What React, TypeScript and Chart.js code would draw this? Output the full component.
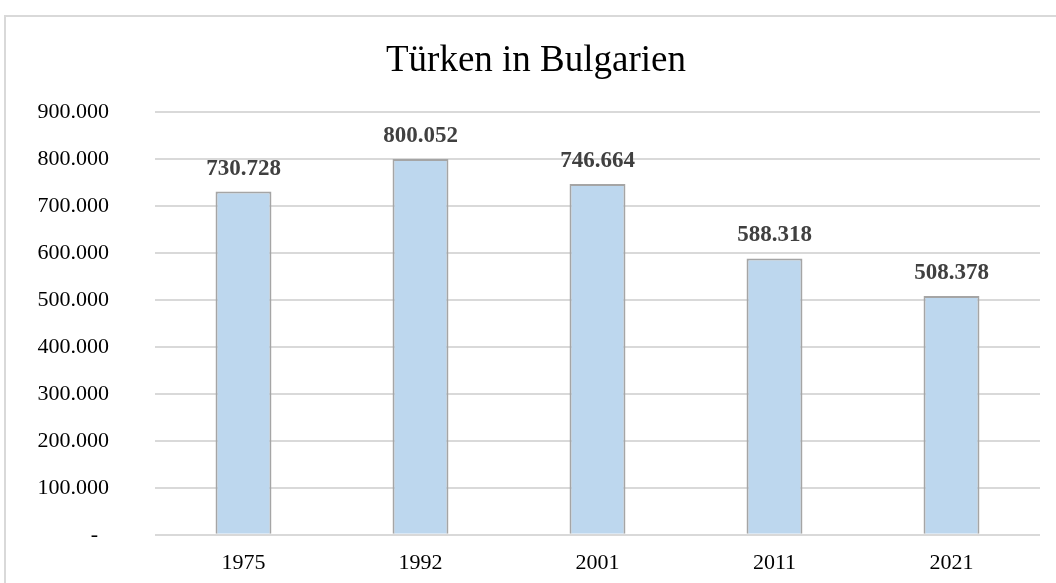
import React, { useEffect, useRef } from "react";
import { Chart, registerables } from "chart.js";

Chart.register(...registerables);

const TITLE = "Türken in Bulgarien";
const YEARS = ["1975", "1992", "2001", "2011", "2021"];
const TURKS = [730728, 800052, 746664, 588318, 508378];
const Y_MAX = 900000;
const Y_STEP = 100000;

const fmt = (v: number) => v.toLocaleString("de-DE", { maximumFractionDigits: 0 });

const labelPlugin = {
  id: "barValueLabels",
  afterDatasetsDraw(chart: any) {
    const ctx = chart.ctx;
    const meta = chart.getDatasetMeta(0);
    const data = chart.data.datasets[0].data as number[];
    ctx.save();
    ctx.font = "bold 23px 'Liberation Serif'";
    ctx.fillStyle = "#404040";
    ctx.textAlign = "center";
    ctx.textBaseline = "alphabetic";
    meta.data.forEach((bar: any, i: number) => {
      ctx.fillText(fmt(data[i]), bar.x, bar.y - 17);
    });
    ctx.restore();
  },
};

const titlePlugin = {
  id: "centeredTitle",
  afterDraw(chart: any) {
    const ctx = chart.ctx;
    ctx.save();
    ctx.font = "37px 'Liberation Serif'";
    ctx.fillStyle = "#000000";
    ctx.textAlign = "center";
    ctx.textBaseline = "alphabetic";
    ctx.fillText(TITLE, 536, 71);
    ctx.restore();
  },
};

export default function App() {
  const ref = useRef<HTMLCanvasElement | null>(null);

  useEffect(() => {
    if (!ref.current) return;
    const chart = new Chart(ref.current, {
      type: "bar",
      data: {
        labels: YEARS,
        datasets: [
          {
            data: TURKS,
            backgroundColor: "#bdd7ee",
            borderColor: "#a5a5a5",
            borderWidth: 2,
            categoryPercentage: 1,
            barPercentage: 0.316,
          },
        ],
      },
      options: {
        animation: false,
        responsive: false,
        maintainAspectRatio: false,
        layout: { padding: { top: 112, left: 0, right: 16, bottom: 0 } },
        plugins: {
          legend: { display: false },
          tooltip: { enabled: false },
          title: { display: false },
        },
        scales: {
          x: {
            grid: { display: false, drawTicks: false },
            border: { display: false },
            ticks: {
              color: "#000000",
              font: { family: "'Liberation Serif'", size: 22 },
              padding: 15,
            },
            afterFit: (s: any) => {
              s.height = 36;
            },
          },
          y: {
            min: 0,
            max: Y_MAX,
            grid: { color: "#d9d9d9", lineWidth: 2, drawTicks: false },
            border: { display: false },
            ticks: {
              stepSize: Y_STEP,
              color: "#000000",
              font: { family: "'Liberation Serif'", size: 22 },
              padding: 46,
              callback: (v: any) => (Number(v) === 0 ? "-  " : fmt(Number(v))),
            },
            afterFit: (s: any) => {
              s.width = 155;
            },
          },
        },
      },
      plugins: [labelPlugin, titlePlugin],
    });
    return () => chart.destroy();
  }, []);

  return (
    <div
      style={{
        position: "fixed",
        left: 0,
        top: 0,
        width: 1056,
        height: 583,
        overflow: "hidden",
        background: "#ffffff",
      }}
    >
      <canvas
        ref={ref}
        width={1056}
        height={594}
        style={{ position: "absolute", left: 0, top: 0, width: 1056, height: 594 }}
      />
      <div
        style={{
          position: "absolute",
          left: 4,
          top: 15,
          width: 1200,
          height: 800,
          border: "2px solid #d9d9d9",
          pointerEvents: "none",
        }}
      />
    </div>
  );
}
